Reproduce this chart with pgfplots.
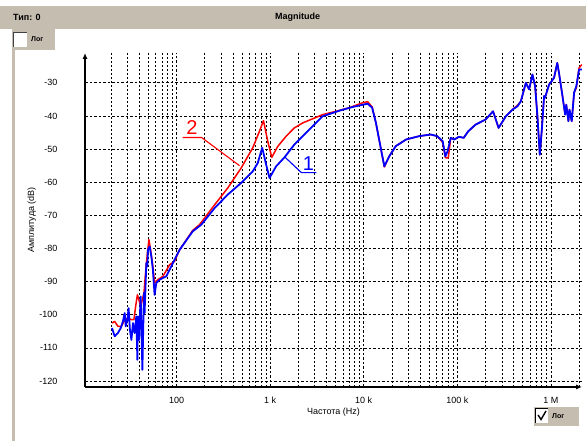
\documentclass[border=0pt]{standalone}
\usepackage{pgfplots}
\pgfplotsset{compat=1.18}
\usepackage{fontspec}
\setmainfont{Liberation Sans}
\usetikzlibrary{arrows.meta}
\definecolor{winbar}{RGB}{197,189,175}
\definecolor{curvered}{RGB}{255,0,0}
\definecolor{curveblue}{RGB}{0,0,255}

\pgfplotstableread{
f dB
20.4 -104.0
21.8 -106.5
23.6 -105.5
25.3 -104.0
26.7 -102.0
27.9 -99.5
28.6 -103.5
29.8 -101.5
30.7 -98.0
31.7 -104.5
32.9 -107.6
34.2 -102.5
35.6 -105.5
37.1 -100.5
38.1 -113.6
38.6 -100.5
39.6 -107.6
41.3 -94.5
43.1 -116.6
44.8 -93.4
45.5 -99.5
47.5 -84.4
48.7 -85.4
49.4 -80.4
51.5 -79.4
53.7 -82.4
55.8 -86.4
58.2 -94.0
60.7 -90.4
65.9 -89.4
77.6 -88.4
107.6 -80.4
149 -74.8
184 -72.8
255 -67.8
353 -63.7
490 -60.2
652 -56.7
737 -54.2
822 -49.6
906 -54.7
984 -58.7
1158 -55.2
1422 -52.5
1816 -48.6
2624 -44.1
3640 -40.1
4655 -39.1
5500 -38.4
7600 -37.3
9800 -36.6
11000 -36.3
12300 -37.5
13500 -42.1
15300 -50.1
16600 -55.2
18700 -52.2
22000 -49.1
28400 -47.1
39000 -46.1
52000 -45.6
61000 -46.1
69800 -47.6
74500 -52.2
78600 -50.7
85000 -46.6
92600 -47.1
104000 -46.3
117000 -46.6
131000 -44.6
157000 -42.6
200000 -41.1
241000 -38.6
276000 -43.6
330000 -40.1
388000 -38.1
439000 -37.1
477000 -35.6
540000 -30.0
585000 -32.0
635000 -27.5
678000 -31.0
718000 -40.1
761000 -51.7
800000 -44.1
846000 -34.0
865000 -34.5
957000 -30.5
990000 -30.0
1080000 -28.5
1170000 -24.0
1220000 -27.0
1330000 -34.0
1420000 -39.6
1460000 -36.6
1540000 -41.6
1580000 -38.1
1670000 -41.6
1770000 -33.0
1870000 -31.0
2000000 -26.0
2140000 -26.0
}\blueTable

\pgfplotstableread{
f dB
20.4 -102.5
21.8 -102.0
23.6 -103.5
25.7 -103.5
27.9 -101.5
30.2 -101.0
32.9 -101.5
35.0 -101.5
36.5 -97.5
38.1 -94.0
39.6 -95.5
41.3 -97.5
44.8 -93.4
47.5 -84.4
50.6 -77.3
52.4 -79.9
55.8 -85.4
58.2 -90.4
63.1 -89.4
71.4 -88.4
84.2 -84.9
95 -83.9
107.6 -80.4
149 -74.5
176 -72.8
255 -66.8
353 -61.7
490 -55.7
652 -49.6
769 -44.6
848 -41.4
942 -47.6
1040 -52.5
1205 -49.2
1482 -46.1
1816 -43.6
2229 -42.1
3640 -39.6
5057 -38.6
7015 -37.5
9800 -36.0
11000 -35.7
12300 -37.3
13500 -42.1
15300 -50.1
16600 -55.4
18700 -52.2
22000 -49.1
28400 -47.1
39000 -46.1
52000 -45.6
61000 -46.1
69800 -48.0
74500 -52.6
80000 -52.7
85000 -46.6
92600 -47.1
104000 -46.3
117000 -46.6
131000 -44.6
157000 -42.6
200000 -41.1
241000 -38.6
276000 -43.6
330000 -40.1
388000 -38.1
439000 -36.8
477000 -35.6
540000 -30.0
585000 -32.0
635000 -27.5
678000 -31.0
718000 -40.1
761000 -51.7
800000 -44.1
846000 -34.0
865000 -34.5
957000 -30.5
990000 -30.0
1080000 -28.5
1170000 -24.0
1220000 -27.0
1330000 -34.0
1420000 -39.6
1460000 -36.6
1540000 -41.6
1580000 -38.1
1670000 -41.6
1770000 -33.0
1870000 -31.5
2000000 -25.5
2140000 -24.5
}\redTable

\begin{document}
\begin{tikzpicture}
\useasboundingbox (0pt,0pt) rectangle (586pt,441pt);
\fill[white] (0pt,0pt) rectangle (586pt,441pt);
% window title bar
\fill[winbar] (0pt,412pt) rectangle (586pt,435pt);
\fill[winbar] (12pt,0pt) rectangle (15pt,412pt);
\fill[winbar] (12pt,391pt) rectangle (55pt,412pt);
% top-left checkbox
\fill[white] (13pt,394pt) rectangle (27pt,409pt);
\draw[black!75, line width=1pt] (13.5pt,394pt) -- (13.5pt,408.5pt) -- (27pt,408.5pt);
\node[font=\fontsize{7}{8}\selectfont\bfseries, anchor=west, inner sep=0pt] at (31pt,402pt) {Лог};
\node[font=\fontsize{9}{10}\selectfont\bfseries, anchor=west, inner sep=0pt] at (13pt,423.7pt) {Тип: 0};
\node[font=\fontsize{9}{10}\selectfont\bfseries, inner sep=0pt] at (297.5pt,423.7pt) {Magnitude};
% bottom-right checkbox
\fill[winbar] (534pt,15pt) rectangle (579pt,34pt);
\fill[white] (535pt,18pt) rectangle (548pt,33pt);
\draw[black, line width=1pt] (535.5pt,18pt) -- (535.5pt,32.5pt) -- (548pt,32.5pt);
\draw[black, line width=1.4pt] (538pt,26pt) -- (541pt,21.5pt) -- (546pt,30pt);
\node[font=\fontsize{7}{8}\selectfont\bfseries, anchor=west, inner sep=0pt] at (552pt,25pt) {Лог};

\begin{axis}[
  at={(85pt,54pt)}, anchor=south west,
  scale only axis, width=497pt, height=334pt,
  xmode=log, xmin=10.5, xmax=2.15e6, ymin=-121.8, ymax=-21,
  axis lines=left,
  axis line style={line width=1.1pt, -{Latex[length=6pt,width=5pt]}},
  xtick={100,1000,10000,100000,1000000},
  xticklabels={100,1 k,10 k,100 k,1 M},
  minor xtick={20,30,40,50,60,70,80,90,200,300,400,500,600,700,800,900,2000,3000,4000,5000,6000,7000,8000,9000,20000,30000,40000,50000,60000,70000,80000,90000,200000,300000,400000,500000,600000,700000,800000,900000,2000000},
  ytick={-120,-110,-100,-90,-80,-70,-60,-50,-40,-30},
  yticklabels={-120,-110,-100,-90,-80,-70,-60,-50,-40,-30},
  major tick length=0pt, minor tick length=0pt,
  xmajorgrids, xminorgrids, ymajorgrids,
  major grid style={black, line width=0.7pt, dash pattern=on 2.5pt off 2pt},
  minor grid style={black, line width=0.7pt, dash pattern=on 2pt off 2pt},
  tick label style={font=\fontsize{9}{10}\selectfont},
  yticklabel style={xshift=-24pt},
  xticklabel style={yshift=-6.5pt},
  xlabel={Частота (Hz)}, ylabel={Амплитуда (dB)},
  label style={font=\fontsize{9}{10}\selectfont},
  xlabel style={at={(axis description cs:0.5,-0.075)}, anchor=center},
  ylabel style={at={(axis description cs:-0.107,0.5)}, anchor=center},
]
\addplot[curvered, line width=1.5pt, line join=round] table[x=f, y=dB] {\redTable};
\addplot[curveblue, line width=1.8pt, line join=round] table[x=f, y=dB] {\blueTable};
\draw[curvered, line width=1.1pt] (axis cs:116,-46.5) -- (axis cs:185,-46.5) -- (axis cs:470,-55);
\node[curvered, font=\fontsize{20}{21}\selectfont, inner sep=0pt] at (axis cs:146,-43.4) {2};
\draw[curveblue, line width=1.1pt] (axis cs:3118,-57.1) -- (axis cs:2158,-57.1) -- (axis cs:1422,-52.3);
\node[curveblue, font=\fontsize{20}{21}\selectfont, inner sep=0pt] at (axis cs:2565,-54.5) {1};
\end{axis}
\end{tikzpicture}
\end{document}
